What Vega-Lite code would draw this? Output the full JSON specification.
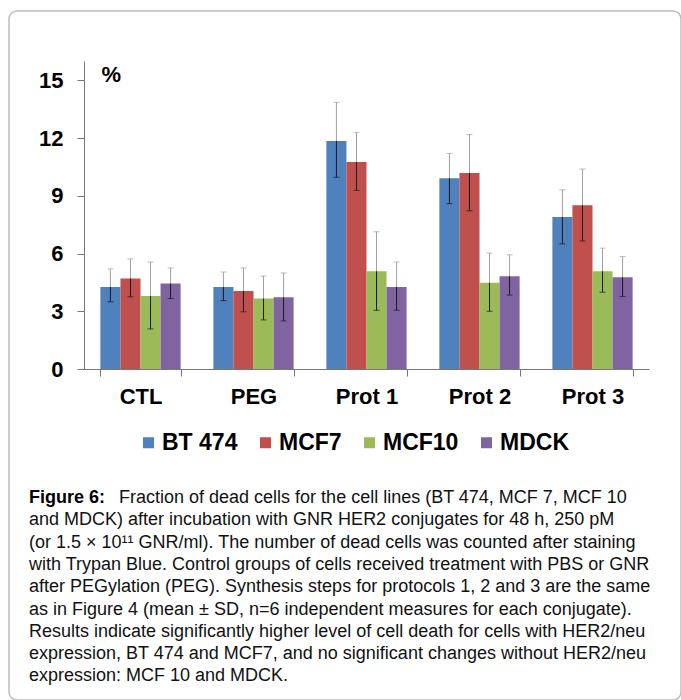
{
  "$schema": "https://vega.github.io/schema/vega-lite/v6.json",
  "width": 672,
  "height": 689,
  "autosize": "none",
  "padding": {"left": 9, "top": 11, "right": 0, "bottom": 0},
  "background": "white",
  "config": {
    "view": {"stroke": "#bdbdbd", "strokeWidth": 1.5, "cornerRadius": 8},
    "font": "Liberation Sans",
    "axis": {"grid": false}
  },
  "title": {
    "text": "Figure 6:",
    "subtitle": [
      "\u200b\u00a0\u00a0\u00a0\u00a0\u00a0\u00a0\u00a0\u00a0\u00a0\u00a0\u00a0\u00a0\u00a0\u00a0\u00a0\u00a0\u00a0\u00a0Fraction of dead cells for the cell lines (BT 474, MCF 7, MCF 10",
      "and MDCK) after incubation with GNR HER2 conjugates for 48 h, 250 pM",
      "(or 1.5 × 10¹¹ GNR/ml). The number of dead cells was counted after staining",
      "with Trypan Blue. Control groups of cells received treatment with PBS or GNR",
      "after PEGylation (PEG). Synthesis steps for protocols 1, 2 and 3 are the same",
      "as in Figure 4 (mean ± SD, n=6 independent measures for each conjugate).",
      "Results indicate significantly higher level of cell death for cells with HER2/neu",
      "expression, BT 474 and MCF7, and no significant changes without HER2/neu",
      "expression: MCF 10 and MDCK."
    ],
    "orient": "bottom",
    "anchor": "start",
    "frame": "group",
    "offset": -211,
    "dx": 20,
    "baseline": "top",
    "font": "Liberation Sans",
    "fontSize": 18,
    "fontWeight": "bold",
    "color": "#000000",
    "subtitleFont": "Liberation Sans",
    "subtitleFontSize": 18,
    "subtitleFontWeight": "normal",
    "subtitleColor": "#111111",
    "subtitleLineHeight": 22.3,
    "subtitlePadding": -18
  },
  "data": {
    "values": [
      {"group": "CTL", "cell": "BT 474", "value": 4.26, "lo": 3.49, "hi": 5.2},
      {"group": "CTL", "cell": "MCF7", "value": 4.7, "lo": 3.75, "hi": 5.72},
      {"group": "CTL", "cell": "MCF10", "value": 3.79, "lo": 2.08, "hi": 5.56},
      {"group": "CTL", "cell": "MDCK", "value": 4.44, "lo": 3.66, "hi": 5.25},
      {"group": "PEG", "cell": "BT 474", "value": 4.26, "lo": 3.55, "hi": 5.04},
      {"group": "PEG", "cell": "MCF7", "value": 4.05, "lo": 2.97, "hi": 5.25},
      {"group": "PEG", "cell": "MCF10", "value": 3.66, "lo": 2.55, "hi": 4.83},
      {"group": "PEG", "cell": "MDCK", "value": 3.73, "lo": 2.5, "hi": 4.99},
      {"group": "Prot 1", "cell": "BT 474", "value": 11.85, "lo": 9.96, "hi": 13.85},
      {"group": "Prot 1", "cell": "MCF7", "value": 10.75, "lo": 9.28, "hi": 12.29},
      {"group": "Prot 1", "cell": "MCF10", "value": 5.08, "lo": 3.05, "hi": 7.13},
      {"group": "Prot 1", "cell": "MDCK", "value": 4.26, "lo": 3.05, "hi": 5.56},
      {"group": "Prot 2", "cell": "BT 474", "value": 9.91, "lo": 8.59, "hi": 11.2},
      {"group": "Prot 2", "cell": "MCF7", "value": 10.18, "lo": 8.22, "hi": 12.18},
      {"group": "Prot 2", "cell": "MCF10", "value": 4.48, "lo": 3.0, "hi": 6.02},
      {"group": "Prot 2", "cell": "MDCK", "value": 4.82, "lo": 3.84, "hi": 5.93},
      {"group": "Prot 3", "cell": "BT 474", "value": 7.9, "lo": 6.5, "hi": 9.31},
      {"group": "Prot 3", "cell": "MCF7", "value": 8.51, "lo": 6.65, "hi": 10.39},
      {"group": "Prot 3", "cell": "MCF10", "value": 5.08, "lo": 3.99, "hi": 6.28},
      {"group": "Prot 3", "cell": "MDCK", "value": 4.77, "lo": 3.76, "hi": 5.84}
    ]
  },
  "encoding": {
    "x": {
      "field": "group",
      "type": "nominal",
      "sort": ["CTL", "PEG", "Prot 1", "Prot 2", "Prot 3"],
      "scale": {"range": [75, 640], "paddingInner": 0.29, "paddingOuter": 0.145},
      "axis": {
        "title": null,
        "labelAngle": 0,
        "labelFontSize": 22,
        "labelFontWeight": "bold",
        "labelColor": "#000000",
        "labelPadding": 10,
        "tickSize": 7,
        "tickColor": "#777777",
        "domainColor": "#777777",
        "tickBand": "extent",
        "offset": -331
      }
    },
    "xOffset": {
      "field": "cell",
      "type": "nominal",
      "sort": ["BT 474", "MCF7", "MCF10", "MDCK"],
      "scale": {"paddingInner": 0, "paddingOuter": 0}
    }
  },
  "layer": [
    {
      "mark": {"type": "bar"},
      "encoding": {
        "y": {
          "field": "value",
          "type": "quantitative",
          "title": "%",
          "scale": {"domain": [0, 15], "range": [358, 50]},
          "axis": {
            "title": "%",
            "titleAngle": 0,
            "titleX": 17,
            "titleY": 63,
            "titleAlign": "left",
            "titleBaseline": "middle",
            "titleFontSize": 22,
            "titleFontWeight": "bold",
            "titleColor": "#000000",
            "values": [0, 3, 6, 9, 12, 15],
            "labelFontSize": 22,
            "labelFontWeight": "bold",
            "labelColor": "#000000",
            "labelPadding": 14,
            "tickSize": 7,
            "tickColor": "#777777",
            "domainColor": "#777777",
            "offset": -75
          }
        },
        "color": {
          "field": "cell",
          "type": "nominal",
          "sort": ["BT 474", "MCF7", "MCF10", "MDCK"],
          "scale": {"domain": ["BT 474", "MCF7", "MCF10", "MDCK"], "range": ["#4f81bd", "#c0504d", "#9bbb59", "#8064a2"]},
          "legend": {
            "orient": "none",
            "legendX": 128,
            "legendY": 420,
            "direction": "horizontal",
            "title": null,
            "symbolType": "square",
            "symbolSize": 121,
            "symbolStrokeWidth": 0,
            "labelFont": "Liberation Sans",
            "labelFontSize": 23,
            "labelFontWeight": "bold",
            "labelColor": "#000000",
            "labelOffset": 2,
            "columnPadding": 16,
            "padding": 0
          }
        }
      }
    },
    {
      "mark": {"type": "rule", "color": "#a0a0a0", "strokeWidth": 1},
      "encoding": {"y": {"field": "value", "type": "quantitative", "title": "%"}, "y2": {"field": "hi"}}
    },
    {
      "mark": {"type": "rule", "color": "#1a1a1a", "strokeWidth": 1},
      "encoding": {"y": {"field": "lo", "type": "quantitative", "title": "%"}, "y2": {"field": "value"}}
    },
    {
      "mark": {"type": "tick", "color": "#a0a0a0", "size": 6, "thickness": 1},
      "encoding": {"y": {"field": "hi", "type": "quantitative", "title": "%"}}
    },
    {
      "mark": {"type": "tick", "color": "#1a1a1a", "size": 6, "thickness": 1},
      "encoding": {"y": {"field": "lo", "type": "quantitative", "title": "%"}}
    }
  ]
}
